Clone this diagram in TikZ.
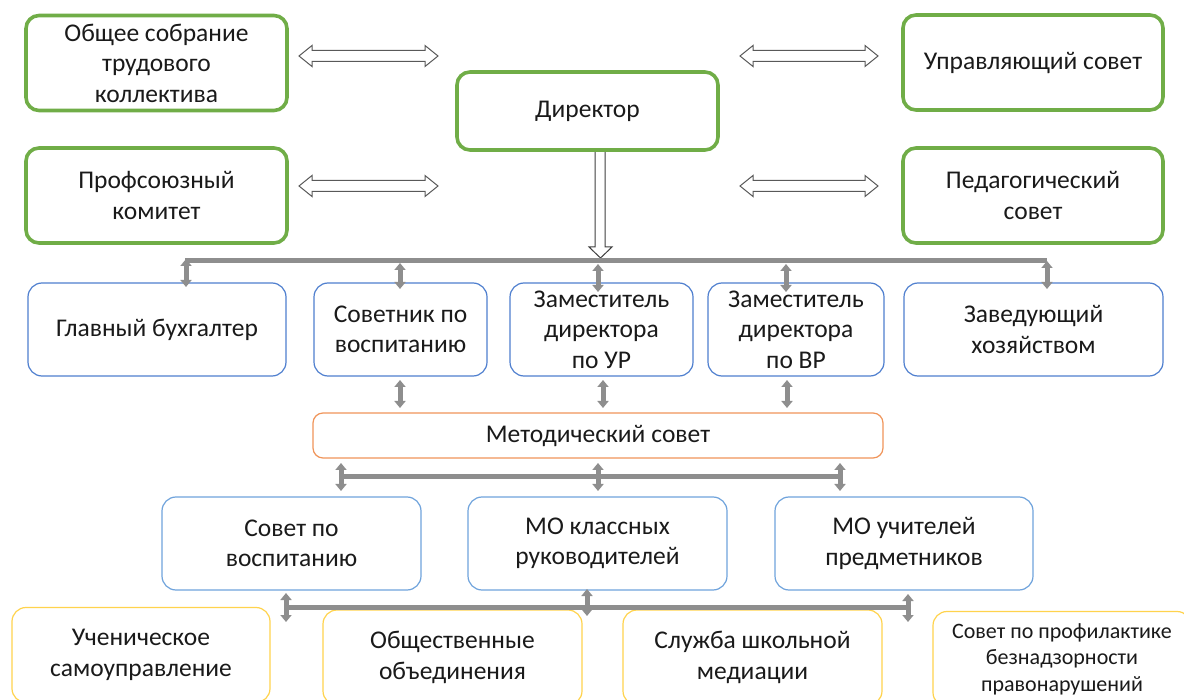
\documentclass[tikz,border=0pt]{standalone}
\usepackage{fontspec}
\setmainfont{Carlito}
\usetikzlibrary{arrows.meta}
\definecolor{ggreen}{HTML}{70AD47}
\definecolor{bblue}{HTML}{4F7FCF}
\definecolor{lblue}{HTML}{6FA3DC}
\definecolor{oorange}{HTML}{F0955A}
\definecolor{yyellow}{HTML}{FFD34D}
\definecolor{ggray}{HTML}{8E8E8E}
\definecolor{txt}{HTML}{1A1A1A}
\newcommand\hdarr[3]{%
  \filldraw[fill=white,draw=black!65,line width=1pt,line join=miter]
  (#1,#3) -- (#1+13,#3-10.5) -- (#1+13,#3-5.5) -- (#2-13,#3-5.5) -- (#2-13,#3-10.5)
  -- (#2,#3) -- (#2-13,#3+10.5) -- (#2-13,#3+5.5) -- (#1+13,#3+5.5) -- (#1+13,#3+10.5) -- cycle;}
\tikzset{
  box/.style={rectangle,rounded corners=14pt,fill=white,align=center,text=txt,
    font=\fontsize{25.5}{30.5}\selectfont,inner sep=0pt},
  gbox/.style={box,draw=ggreen,line width=3.6pt,rounded corners=13pt},
  bbox/.style={box,draw=bblue,line width=1.2pt},
  lbbox/.style={box,draw=lblue,line width=1.2pt},
  obox/.style={box,draw=oorange,line width=1.2pt,rounded corners=10pt},
  ybox/.style={box,draw=yyellow,line width=1.2pt},
  bus/.style={draw=ggray,line width=5pt},
  garr/.style={draw=ggray,line width=5pt,{Triangle[width=11pt,length=7pt]}-{Triangle[width=11pt,length=7pt]}},
}
\begin{document}
\begin{tikzpicture}[x=1pt,y=-1pt]
\useasboundingbox (0,0) rectangle (1184,700);
\clip (0,0) rectangle (1184,700);
\fill[white] (0,0) rectangle (1184,700);

% director down arrow
\filldraw[fill=white,draw=black!75,line width=1pt,line join=miter]
  (595,149) -- (595,247) -- (589,247) -- (600.5,258) -- (612,247) -- (605,247) -- (605,149) -- cycle;

% top green boxes
\node[gbox,minimum width=261pt,minimum height=95pt] (g1) at (156.5,63) {Общее собрание\\трудового\\коллектива};
\node[gbox,minimum width=260pt,minimum height=95pt] (g2) at (1033,62.5) {Управляющий совет};
\node[gbox,minimum width=261pt,minimum height=78pt] (dir) at (587.5,111) {Директор};
\node[gbox,minimum width=261pt,minimum height=95pt] (g3) at (156.5,195.5) {Профсоюзный\\комитет};
\node[gbox,minimum width=260pt,minimum height=95pt] (g4) at (1033,195.5) {Педагогический\\совет};

\hdarr{299}{438}{56}
\hdarr{740}{878}{56}
\hdarr{299}{438}{186}
\hdarr{740}{878}{186}

% row 2
\node[bbox,minimum width=258pt,minimum height=93pt] (b1) at (157,329.5) {Главный бухгалтер};
\node[bbox,minimum width=173pt,minimum height=93pt] (b2) at (400.5,329.5) {Советник по\\воспитанию};
\node[bbox,minimum width=183pt,minimum height=93pt] (b3) at (601.5,329.5) {Заместитель\\директора\\по УР};
\node[bbox,minimum width=176pt,minimum height=93pt] (b4) at (796,329.5) {Заместитель\\директора\\по ВР};
\node[bbox,minimum width=259pt,minimum height=93pt] (b5) at (1033.5,329.5) {Заведующий\\хозяйством};

% methodical council
\node[obox,minimum width=570pt,minimum height=45pt] (met) at (598,435.5) {Методический совет};

% row 4
\node[lbbox,minimum width=259pt,minimum height=93pt] (c1) at (291.5,543.5) {Совет по\\воспитанию};
\node[lbbox,minimum width=259pt,minimum height=93pt] (c2) at (597.5,543.5) {МО классных\\руководителей};
\node[lbbox,minimum width=258pt,minimum height=93pt] (c3) at (904,543.5) {МО учителей\\предметников};

% row 5
\node[ybox,minimum width=258pt,minimum height=95pt] (y1) at (141,655) {Ученическое\\самоуправление};
\node[ybox,minimum width=259pt,minimum height=95pt] (y2) at (452.5,657.5) {Общественные\\объединения};
\node[ybox,minimum width=259pt,minimum height=95pt] (y3) at (752.5,657.5) {Служба школьной\\медиации};
\node[ybox,minimum width=258pt,minimum height=95pt,font=\fontsize{22}{26.5}\selectfont] (y4) at (1062,659) {Совет по профилактике\\безнадзорности\\правонарушений};

% bus coordinates
\coordinate (k1L) at (185,261);  \coordinate (k1R) at (1047,261);
\coordinate (k2L) at (341,477);  \coordinate (k2R) at (840,477);
\coordinate (k3L) at (286,607);  \coordinate (k3R) at (908,607);

\draw[bus] (k1L) -- (k1R);
\draw[bus] (k2L) -- (k2R);
\draw[bus] (k3L) -- (k3R);

% bus 1 arrows
\draw[garr] (186,259) -- (186,287);
\draw[garr] (400,263) -- (400,289);
\draw[garr] (598,264) -- (598,292);
\draw[garr] (786,264) -- (786,292);
\draw[garr] (1047,261) -- (1047,289);

% row 2 to methodical council
\draw[garr] (400,380) -- (400,408);
\draw[garr] (603,380) -- (603,408);
\draw[garr] (787,380) -- (787,408);

% bus 2 arrows
\draw[garr] (341,463) -- (341,491);
\draw[garr] (598,463) -- (598,491);
\draw[garr] (840,463) -- (840,491);

% bus 3 arrows
\draw[garr] (286,593) -- (286,622);
\draw[garr] (587,589) -- (587,616);
\draw[garr] (908,594) -- (908,622);
\end{tikzpicture}
\end{document}
